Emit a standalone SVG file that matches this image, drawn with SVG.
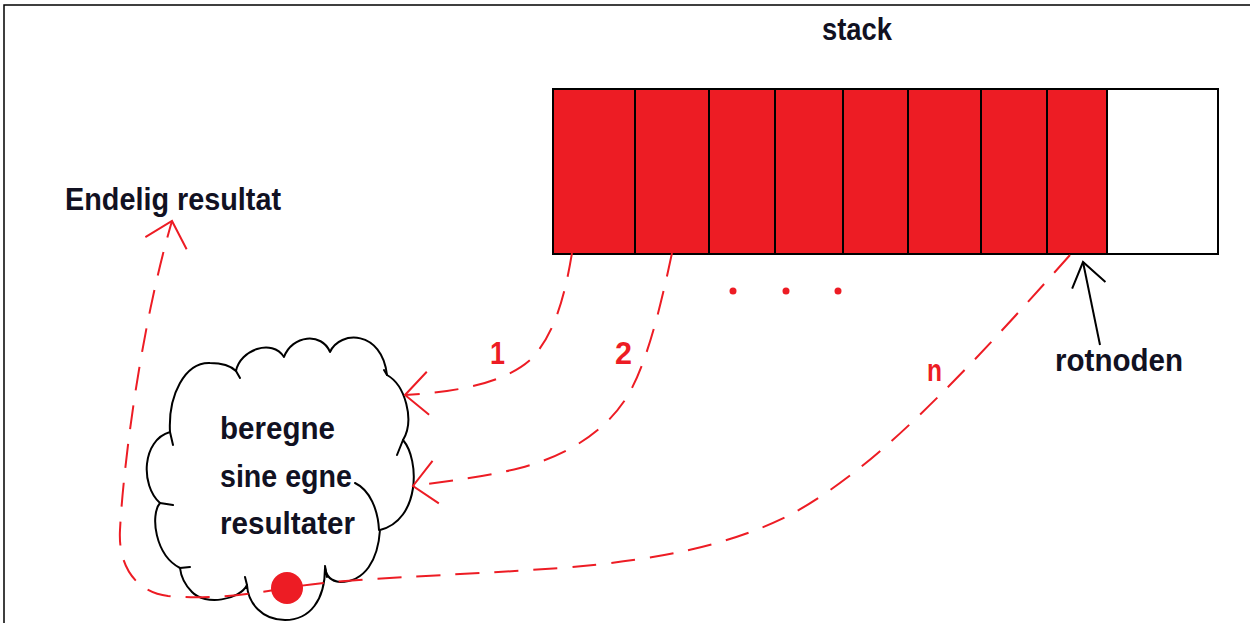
<svg xmlns="http://www.w3.org/2000/svg" width="1250" height="623" viewBox="0 0 1250 623">
  <style>
    .lbl { font-family: "Liberation Sans", Arial, sans-serif; font-weight: bold; font-size: 31px; fill: #111122; }
    .num { font-family: "Liberation Sans", Arial, sans-serif; font-weight: bold; font-size: 32px; fill: #ED1C24; }
    .cell { fill: #ED1C24; stroke: #000; stroke-width: 2; }
    .flow { fill: none; stroke: #ED1C24; stroke-width: 2; stroke-dasharray: 24 15; }
    .outline { fill: none; stroke: #000; stroke-width: 2; stroke-linejoin: round; stroke-linecap: round; }
  </style>
  <defs>
    <marker id="redHead" markerUnits="userSpaceOnUse" viewBox="-30 -30 40 60" refX="0" refY="0" markerWidth="40" markerHeight="60" orient="auto" overflow="visible">
      <path d="M-23,-21 L0,0 L-23,22" fill="none" stroke="#ED1C24" stroke-width="2"/>
    </marker>
    <marker id="blackHead" markerUnits="userSpaceOnUse" viewBox="-30 -30 40 60" refX="0" refY="0" markerWidth="40" markerHeight="60" orient="auto" overflow="visible">
      <path d="M-24,-16 L0,0 L-24,18" fill="none" stroke="#000" stroke-width="2"/>
    </marker>
  </defs>

  <rect width="1250" height="623" fill="#fff"/>
  <!-- frame -->
  <path d="M1250,5 L4,5 L4,623" fill="none" stroke="#000" stroke-width="1.5"/>

  <g id="stack-title">
    <text class="lbl" x="822" y="40" textLength="70" lengthAdjust="spacingAndGlyphs">stack</text>
  </g>

  <!-- the stack: filled frames plus one free slot -->
  <g id="stack">
    <rect x="553" y="89" width="665" height="165" fill="#fff" stroke="#000" stroke-width="2"/>
    <rect class="cell" x="553" y="89" width="82" height="165"/>
    <rect class="cell" x="635" y="89" width="74" height="165"/>
    <rect class="cell" x="709" y="89" width="66" height="165"/>
    <rect class="cell" x="775" y="89" width="68" height="165"/>
    <rect class="cell" x="843" y="89" width="65" height="165"/>
    <rect class="cell" x="908" y="89" width="73" height="165"/>
    <rect class="cell" x="981" y="89" width="66" height="165"/>
    <rect class="cell" x="1047" y="89" width="60" height="165"/>
  </g>

  <g id="ellipsis" fill="#ED1C24">
    <circle cx="733" cy="291" r="3.5"/>
    <circle cx="786" cy="291" r="3.5"/>
    <circle cx="838" cy="291" r="3.5"/>
  </g>

  <g id="final-result">
    <text class="lbl" x="65" y="210" textLength="216" lengthAdjust="spacingAndGlyphs">Endelig resultat</text>
  </g>

  <g id="root-label">
    <text class="lbl" x="1055" y="371" textLength="128" lengthAdjust="spacingAndGlyphs">rotnoden</text>
  </g>

  <!-- cloud: the computation of each node -->
  <g id="cloud">
    <path d="M170,432 C168,395 185,362 210,363 C222,363 231,366 236,371
             C240,350 272,338 284,357
             C292,335 322,332 330,352
             C340,330 382,330 387,375
             C405,385 415,420 403,440
             C420,460 420,520 380,530
             C378,560 365,582 340,582 C330,581 326,575 325,568
             C325,600 310,620 285,620 C262,620 248,603 247,585
             C240,600 205,606 192,592 C185,585 181,577 180,568
             C155,555 150,515 160,503
             C140,485 142,440 170,432 Z" fill="#fff" stroke="none"/>
    <path class="outline" d="M170,432 C168,395 185,362 210,363 C222,363 231,366 236,371
             C240,350 272,338 284,357
             C292,335 322,332 330,352
             C340,330 382,330 387,375
             C405,385 415,420 403,440
             C420,460 420,520 380,530
             C378,560 365,582 340,582 C330,581 326,575 325,568
             C325,600 310,620 285,620 C262,620 248,603 247,585
             C240,600 205,606 192,592 C185,585 181,577 180,568
             C155,555 150,515 160,503
             C140,485 142,440 170,432"/>
    <path class="outline" d="M355,483 C370,490 378,510 379,530"/>
    <!-- small ticks where the scallops meet -->
    <path class="outline" d="M170,432 L173,445 M236,371 L240,378 M403,440 L397,455 M180,568 L190,567 M160,503 L173,505 M247,585 L245,577 M325,566 L327,577 M387,375 L384,370"/>
    <text class="lbl" x="220" y="439" textLength="115" lengthAdjust="spacingAndGlyphs">beregne</text>
    <text class="lbl" x="220" y="487" textLength="132" lengthAdjust="spacingAndGlyphs">sine egne</text>
    <text class="lbl" x="220" y="534" textLength="135" lengthAdjust="spacingAndGlyphs">resultater</text>
  </g>

  <g id="connectors">
    <path class="flow" d="M572,253 C565,295 555,335 530,360 C505,382 460,392 405,395" marker-end="url(#redHead)"/>
    <path class="flow" d="M672,253 C660,310 645,370 625,400 C605,430 570,455 520,468 C480,478 440,482 413,486" marker-end="url(#redHead)"/>
    <path class="flow" d="M1070,255 C1030,300 985,350 945,390 C900,435 850,482 790,515 C730,545 660,560 560,568 C450,576 340,578 287,588"/>
    <path class="flow" d="M287,588 C250,594 210,600 168,596 C135,592 118,565 120,530 C123,470 140,330 172,221" marker-end="url(#redHead)"/>
    <path d="M1100,345 L1083,262" fill="none" stroke="#000" stroke-width="2" marker-end="url(#blackHead)"/>
  </g>

  <g id="result-point">
    <circle cx="287" cy="588" r="16" fill="#ED1C24"/>
  </g>

  <g id="step-labels">
    <text class="num" x="490" y="364" textLength="15" lengthAdjust="spacingAndGlyphs">1</text>
    <text class="num" x="615" y="364" textLength="17" lengthAdjust="spacingAndGlyphs">2</text>
    <text class="num" x="927" y="381" font-size="36" textLength="15" lengthAdjust="spacingAndGlyphs">n</text>
  </g>
</svg>
